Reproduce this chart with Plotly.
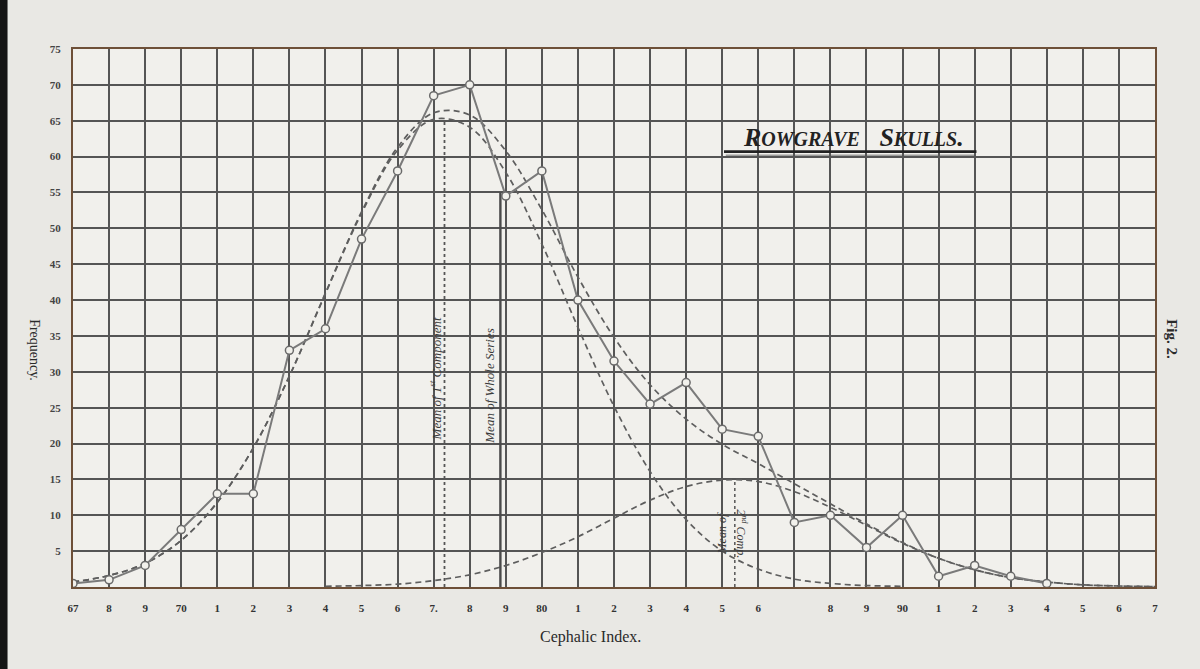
import plotly.graph_objects as go

# ---------------- data ----------------
index_vals = list(range(67, 95))
frequency = [0.5, 1, 3, 8, 13, 13, 33, 36, 48.5, 58, 68.5, 70, 54.5, 58,
             40, 31.5, 25.5, 28.5, 22, 21, 9, 10, 5.5, 10, 1.5, 3, 1.5, 0.5]

comp1_x = list(range(67, 91))
comp1_y = [0.7, 1.6, 3.3, 6.5, 11.8, 19.4, 29.4, 40.9, 52.1, 60.9, 65.2, 64.1,
           57.8, 47.8, 36.2, 25.2, 16.1, 9.4, 5.0, 2.5, 1.1, 0.5, 0.2, 0.1]

comp2_x = list(range(74, 98))
comp2_y = [0.1, 0.2, 0.4, 0.9, 1.7, 3.0, 4.8, 7.0, 9.6, 12.1, 14.0, 14.9,
           14.7, 13.3, 11.1, 8.6, 6.1, 4.0, 2.4, 1.3, 0.7, 0.3, 0.14, 0.05]

total_x = list(range(67, 98))
total_y = [0.7, 1.6, 3.3, 6.5, 11.8, 19.4, 29.4, 41.0, 52.3, 61.3, 66.1, 65.8,
           60.8, 52.6, 43.2, 34.8, 28.2, 23.4, 19.9, 17.2, 14.4, 11.6, 8.8,
           6.2, 4.0, 2.4, 1.3, 0.7, 0.3, 0.14, 0.05]

mean_whole = 78.85
mean_whole_height = 55
mean_comp1 = 77.3
mean_comp1_height = 65
mean_comp2 = 85.35
mean_comp2_height = 15

x_tickvals = list(range(67, 98))
x_ticktext = ["67", "8", "9", "70", "1", "2", "3", "4", "5", "6", "7.", "8", "9",
              "80", "1", "2", "3", "4", "5", "6", "", "8", "9", "90", "1", "2",
              "3", "4", "5", "6", "7"]
y_tickvals = list(range(5, 80, 5))
y_ticktext = [str(v) for v in y_tickvals]

# ---------------- styling ----------------
PAPER = "#e9e8e4"
PLOT = "#f1f0ec"
GRID = "#555555"
INK = "#333333"
SERIF = "Liberation Serif, DejaVu Serif, serif"

fig = go.Figure()

dash_style = dict(color="#5e5e5e", width=1.7, dash="6px,4px", shape="spline", smoothing=1.0)

fig.add_trace(go.Scatter(x=total_x, y=total_y, mode="lines", line=dash_style,
                         hoverinfo="skip", showlegend=False))
fig.add_trace(go.Scatter(x=comp1_x, y=comp1_y, mode="lines", line=dash_style,
                         hoverinfo="skip", showlegend=False))
fig.add_trace(go.Scatter(x=comp2_x, y=comp2_y, mode="lines", line=dash_style,
                         hoverinfo="skip", showlegend=False))

# mean lines
fig.add_trace(go.Scatter(x=[mean_comp1, mean_comp1], y=[0, mean_comp1_height], mode="lines",
                         line=dict(color="#555555", width=1.8, dash="dot"),
                         hoverinfo="skip", showlegend=False))
fig.add_trace(go.Scatter(x=[mean_whole, mean_whole], y=[0, mean_whole_height], mode="lines",
                         line=dict(color="#4a4a4a", width=2.4),
                         hoverinfo="skip", showlegend=False))
fig.add_trace(go.Scatter(x=[mean_comp2, mean_comp2], y=[0, mean_comp2_height], mode="lines",
                         line=dict(color="#555555", width=1.5, dash="dot"),
                         hoverinfo="skip", showlegend=False))

# observed frequency polygon
fig.add_trace(go.Scatter(x=index_vals, y=frequency, mode="lines+markers",
                         line=dict(color="#7a7a7a", width=2),
                         marker=dict(symbol="circle", size=8, color="#f2f1ec",
                                     line=dict(color="#6a6a6a", width=1.5)),
                         hoverinfo="skip", showlegend=False))

annotations = [
    dict(x=77.05, y=29, xref="x", yref="y", text="<i>Mean of 1<sup>st</sup> Component</i>",
         textangle=-90, showarrow=False, font=dict(family=SERIF, size=13, color="#3a3a3a")),
    dict(x=78.55, y=28, xref="x", yref="y", text="<i>Mean of Whole Series</i>",
         textangle=-90, showarrow=False, font=dict(family=SERIF, size=13, color="#3a3a3a")),
    dict(x=85.0, y=7.5, xref="x", yref="y", text="<i>Mean of</i>",
         textangle=-90, showarrow=False, font=dict(family=SERIF, size=12, color="#3a3a3a")),
    dict(x=85.55, y=7.5, xref="x", yref="y", text="<i>2<sup>nd</sup> Comp.</i>",
         textangle=90, showarrow=False, font=dict(family=SERIF, size=12, color="#3a3a3a")),
    dict(x=88.65, y=62.6, xref="x", yref="y",
         text="<b><i>R<span style='font-size:20px'>OWGRAVE</span>&nbsp;&nbsp;&nbsp;S<span style='font-size:20px'>KULLS</span>.</i></b>",
         showarrow=False, font=dict(family=SERIF, size=26, color="#222222")),
    dict(x=1.016, y=0.46, xref="paper", yref="paper", xanchor="center", yanchor="middle",
         text="<b>Fig. 2.</b>",
         textangle=90, showarrow=False, font=dict(family=SERIF, size=15, color="#2a2a2a")),
    dict(x=-0.035, y=0.44, xref="paper", yref="paper", xanchor="center", yanchor="middle",
         text="Frequency.",
         textangle=90, showarrow=False, font=dict(family=SERIF, size=14, color="#2a2a2a")),
    dict(x=0.478, y=-0.093, xref="paper", yref="paper", xanchor="center", yanchor="middle",
         text="Cephalic Index.",
         showarrow=False, font=dict(family=SERIF, size=16, color="#2a2a2a")),
]

shapes = [
    # title underline
    dict(type="line", xref="x", yref="y", x0=85.05, x1=92.05, y0=60.7, y1=60.7,
         line=dict(color="#222222", width=2.6)),
    dict(type="line", xref="x", yref="y", x0=85.1, x1=92.0, y0=60.2, y1=60.2,
         line=dict(color="#555555", width=0.8)),
    # dark photo edge on the left
    dict(type="rect", xref="paper", yref="paper", x0=-0.0675, x1=-0.0605, y0=-0.2, y1=1.12,
         line=dict(width=0), fillcolor="#151515", layer="below"),
]

fig.update_layout(
    width=1200, height=669,
    margin=dict(l=73, r=45, t=49, b=82),
    paper_bgcolor=PAPER, plot_bgcolor=PLOT,
    annotations=annotations, shapes=shapes,
    xaxis=dict(range=[67, 97], tickvals=x_tickvals, ticktext=x_ticktext,
               showgrid=True, gridcolor=GRID, gridwidth=1.6, zeroline=False,
               showline=True, linecolor="#6e5038", linewidth=2, mirror=True,
               ticks="", ticklabelstandoff=10,
               tickfont=dict(family=SERIF, size=11, color=INK, weight="bold")),
    yaxis=dict(range=[0, 75], tickvals=y_tickvals, ticktext=y_ticktext,
               showgrid=True, gridcolor=GRID, gridwidth=1.6, zeroline=False,
               showline=True, linecolor="#6e5038", linewidth=2, mirror=True,
               ticks="", ticklabelstandoff=8,
               tickfont=dict(family=SERIF, size=11, color="#444444", weight="bold")),
)

fig.write_html("out.html", config={"displayModeBar": False},
               post_script="document.body.style.margin='0px';document.body.style.background='#e9e8e4';")
